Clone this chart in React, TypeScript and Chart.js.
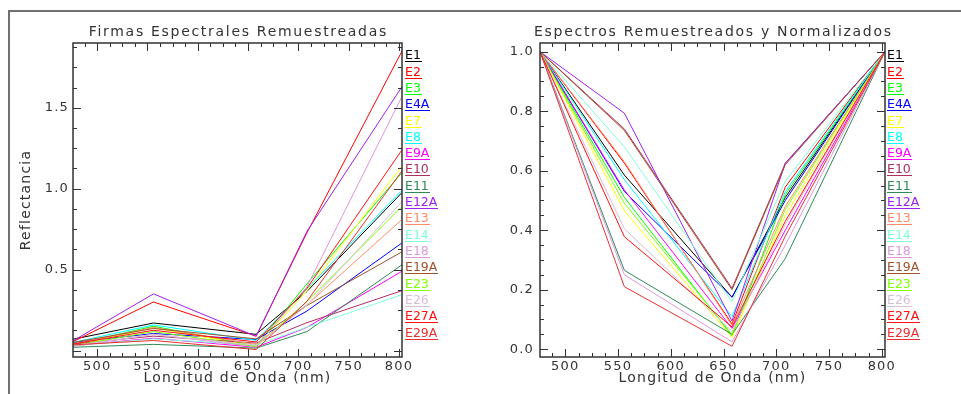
import React, { useEffect, useRef } from 'react';
import { Chart, registerables } from 'chart.js';

Chart.register(...registerables);

// ---------- data ----------
const wavelengths = [476, 556, 658, 708.5, 803];

const seriesNames = ['E1', 'E2', 'E3', 'E4A', 'E7', 'E8', 'E9A', 'E10', 'E11', 'E12A', 'E13', 'E14', 'E18', 'E19A', 'E23', 'E26', 'E27A', 'E29A'];
const seriesColors = ['#000000', '#ff0000', '#00ff00', '#0000ff', '#ffff00', '#00ffff', '#ff00ff', '#b03060', '#2e8b57', '#a020f0', '#ff8c69', '#7fffd4', '#dd99dd', '#a0522d', '#7fff00', '#d8bfd8', '#ff1010', '#e83030'];

// Reflectance (left panel), one array per band, values in seriesNames order
const refl476 = [0.07, 0.055, 0.035, 0.05, 0.03, 0.05, 0.03, 0.04, 0.02, 0.06, 0.04, 0.03, 0.025, 0.05, 0.03, 0.03, 0.04, 0.035];
const refl556 = [0.17, 0.30, 0.15, 0.105, 0.14, 0.158, 0.076, 0.089, 0.038, 0.35, 0.143, 0.072, 0.10, 0.136, 0.117, 0.10, 0.125, 0.062];
const refl658 = [0.10, 0.089, 0.028, 0.068, 0.026, 0.063, 0.02, 0.046, 0.015, 0.088, 0.037, 0.033, 0.022, 0.072, 0.025, 0.031, 0.053, 0.006];
const refl708 = [0.365, 0.727, 0.412, 0.244, 0.369, 0.381, 0.143, 0.172, 0.117, 0.736, 0.282, 0.144, 0.394, 0.278, 0.302, 0.279, 0.384, 0.304];
const refl803 = [0.976, 1.85, 1.10, 0.665, 1.14, 0.99, 0.49, 0.37, 0.53, 1.63, 0.81, 0.345, 1.57, 0.61, 0.89, 0.92, 1.24, 1.11];

// Resampled and normalized spectra (right panel)
const norm476 = [1, 1, 1, 1, 1, 1, 1, 1, 1, 1, 1, 1, 1, 1, 1, 1, 1, 1];
const norm556 = [0.585, 0.625, 0.51, 0.53, 0.465, 0.57, 0.535, 0.74, 0.265, 0.793, 0.63, 0.68, 0.25, 0.735, 0.49, 0.405, 0.378, 0.21];
const norm658 = [0.175, 0.085, 0.045, 0.175, 0.04, 0.11, 0.07, 0.205, 0.05, 0.095, 0.08, 0.16, 0.025, 0.2, 0.05, 0.06, 0.075, 0.01];
const norm708 = [0.51, 0.545, 0.52, 0.50, 0.45, 0.53, 0.40, 0.625, 0.305, 0.625, 0.48, 0.565, 0.35, 0.62, 0.47, 0.42, 0.43, 0.38];
const norm803 = [1, 1, 1, 1, 1, 1, 1, 1, 1, 1, 1, 1, 1, 1, 1, 1, 1, 1];

const xTickValues = [500, 550, 600, 650, 700, 750, 800];
const reflTickValues = [0.5, 1.0, 1.5];
const normTickValues = [0, 0.2, 0.4, 0.6, 0.8, 1.0];

// ---------- styling ----------
const FONT = "'DejaVu Sans', Verdana, sans-serif";
const TEXT = '#333333';
const AXIS = '#333333';

const idlAxesPlugin = {
  id: 'idlAxes',
  beforeDraw(chart: any) {
    chart.ctx.letterSpacing = '1.2px';
  },
  afterDraw(chart: any, _args: any, opts: any) {
    const { ctx, chartArea } = chart;
    const { left, right, top, bottom } = chartArea;
    const xs = chart.scales.x;
    const ys = chart.scales.y;
    ctx.save();
    // plot title, centred over the plot area
    ctx.font = `14px ${FONT}`;
    ctx.letterSpacing = '1.7px';
    ctx.fillStyle = TEXT;
    ctx.textAlign = 'center';
    ctx.textBaseline = 'middle';
    ctx.fillText(opts.title, (left + right) / 2 + 0.85, 32.3);
    ctx.letterSpacing = '0px';
    // axis box
    ctx.strokeStyle = AXIS;
    ctx.lineWidth = 1.5;
    ctx.strokeRect(left, top, right - left, bottom - top);
    // inward ticks on all four sides
    ctx.lineWidth = 1;
    ctx.beginPath();
    const per = opts.perMajor || 4;
    const k0 = Math.ceil(xs.min / opts.xMinor - 1e-6);
    const k1 = Math.floor(xs.max / opts.xMinor + 1e-6);
    for (let k = k0; k <= k1; k++) {
      const v = k * opts.xMinor;
      const len = k % per === 0 ? 8 : 4;
      const px = Math.round(xs.getPixelForValue(v)) + 0.5;
      ctx.moveTo(px, bottom);
      ctx.lineTo(px, bottom - len);
      ctx.moveTo(px, top);
      ctx.lineTo(px, top + len);
    }
    const j0 = Math.ceil(ys.min / opts.yMinor - 1e-6);
    const j1 = Math.floor(ys.max / opts.yMinor + 1e-6);
    for (let j = j0; j <= j1; j++) {
      const v = j * opts.yMinor;
      const len = j % per === 0 ? 8 : 4;
      const py = Math.round(ys.getPixelForValue(v)) + 0.5;
      ctx.moveTo(left, py);
      ctx.lineTo(left + len, py);
      ctx.moveTo(right, py);
      ctx.lineTo(right - len, py);
    }
    ctx.stroke();
    ctx.restore();
  },
};

type PanelProps = {
  pageLeft: number;
  width: number;
  height: number;
  plotLeft: number;
  plotRight: number;
  plotTop: number;
  plotBottom: number;
  title: string;
  yTitle?: string;
  rows: number[][];
  yMin: number;
  yMax: number;
  yTicks: number[];
  yMinor: number;
  yLabelPad: number;
};

function Panel(p: PanelProps) {
  const ref = useRef<HTMLCanvasElement>(null);
  useEffect(() => {
    const canvas = ref.current!;
    const datasets = seriesNames.map((name, i) => ({
      label: name,
      data: wavelengths.map((w, b) => ({ x: w, y: p.rows[b][i] })),
      borderColor: seriesColors[i],
      backgroundColor: seriesColors[i],
      borderWidth: 1,
      pointRadius: 0,
      tension: 0,
      fill: false,
      order: seriesNames.length - i,
    }));
    const chart = new Chart(canvas, {
      type: 'line',
      data: { datasets },
      options: {
        animation: false,
        responsive: false,
        devicePixelRatio: 1,
        layout: { padding: { left: 0, top: p.plotTop, bottom: 0, right: p.width - p.plotRight } },
        plugins: {
          legend: { display: false },
          tooltip: { enabled: false },
          title: { display: false },
          idlAxes: { xMinor: 12.5, yMinor: p.yMinor, perMajor: 4, title: p.title },
        } as any,
        scales: {
          x: {
            type: 'linear',
            min: wavelengths[0],
            max: wavelengths[wavelengths.length - 1],
            grid: { display: false, drawTicks: false },
            border: { display: false },
            afterBuildTicks: (s: any) => {
              s.ticks = xTickValues.map((v) => ({ value: v }));
            },
            ticks: {
              color: TEXT,
              font: { family: FONT, size: 13 },
              padding: 2,
              maxRotation: 0,
              autoSkip: false,
              callback: (v: any) => String(v),
            },
            title: {
              display: true,
              text: 'Longitud de Onda (nm)',
              color: TEXT,
              font: { family: FONT, size: 14 },
              padding: { top: 0, bottom: 6.9 },
            },
            afterFit: (s: any) => {
              s.height = p.height - p.plotBottom;
            },
          },
          y: {
            type: 'linear',
            min: p.yMin,
            max: p.yMax,
            grid: { display: false, drawTicks: false },
            border: { display: false },
            afterBuildTicks: (s: any) => {
              s.ticks = p.yTicks.map((v) => ({ value: v }));
            },
            ticks: {
              color: TEXT,
              font: { family: FONT, size: 13 },
              padding: p.yLabelPad,
              autoSkip: false,
              callback: (v: any) => Number(v).toFixed(1),
            },
            title: {
              display: !!p.yTitle,
              text: p.yTitle || '',
              color: TEXT,
              font: { family: FONT, size: 14 },
              padding: { top: 18.3, bottom: 0 },
            },
            afterFit: (s: any) => {
              s.width = p.plotLeft;
            },
          },
        } as any,
      },
      plugins: [idlAxesPlugin as any],
    });
    return () => chart.destroy();
  }, []);
  return (
    <canvas
      ref={ref}
      width={p.width}
      height={p.height}
      style={{ position: 'absolute', left: p.pageLeft, top: 0, width: p.width, height: p.height, display: 'block' }}
    />
  );
}

function Legend({ x }: { x: number }) {
  return (
    <>
      {seriesNames.map((n, i) => (
        <div
          key={n}
          style={{
            position: 'absolute',
            left: x,
            top: 48.3 + i * 16.31,
            fontFamily: FONT,
            fontSize: '12.5px',
            lineHeight: '13px',
            color: seriesColors[i],
            whiteSpace: 'nowrap',
          }}
        >
          <span
            style={{
              display: 'inline-block',
              lineHeight: '13px',
              height: 13,
              borderBottom: `1.5px solid ${seriesColors[i]}`,
              paddingRight: 1,
            }}
          >
            {n}
          </span>
        </div>
      ))}
    </>
  );
}

export default function App() {
  return (
    <div style={{ position: 'absolute', left: 0, top: 0, width: 961, height: 394, overflow: 'hidden', background: '#ffffff' }}>
      <div
        style={{
          position: 'absolute',
          left: 8,
          top: 10,
          width: 961,
          height: 400,
          borderTop: '2px solid #707070',
          borderLeft: '2px solid #707070',
        }}
      />
      <Panel
        pageLeft={0}
        width={480}
        height={394}
        plotLeft={73}
        plotRight={402}
        plotTop={43}
        plotBottom={357}
        title="Firmas Espectrales Remuestreadas"
        yTitle="Reflectancia"
        rows={[refl476, refl556, refl658, refl708, refl803]}
        yMin={-0.04}
        yMax={1.9}
        yTicks={reflTickValues}
        yMinor={0.125}
        yLabelPad={4}
      />
      <Legend x={405} />
      <Panel
        pageLeft={480}
        width={481}
        height={394}
        plotLeft={60}
        plotRight={405}
        plotTop={43}
        plotBottom={357}
        title="Espectros Remuestreados y Normalizados"
        rows={[norm476, norm556, norm658, norm708, norm803]}
        yMin={-0.026}
        yMax={1.029}
        yTicks={normTickValues}
        yMinor={0.05}
        yLabelPad={6}
      />
      <Legend x={887} />
    </div>
  );
}
